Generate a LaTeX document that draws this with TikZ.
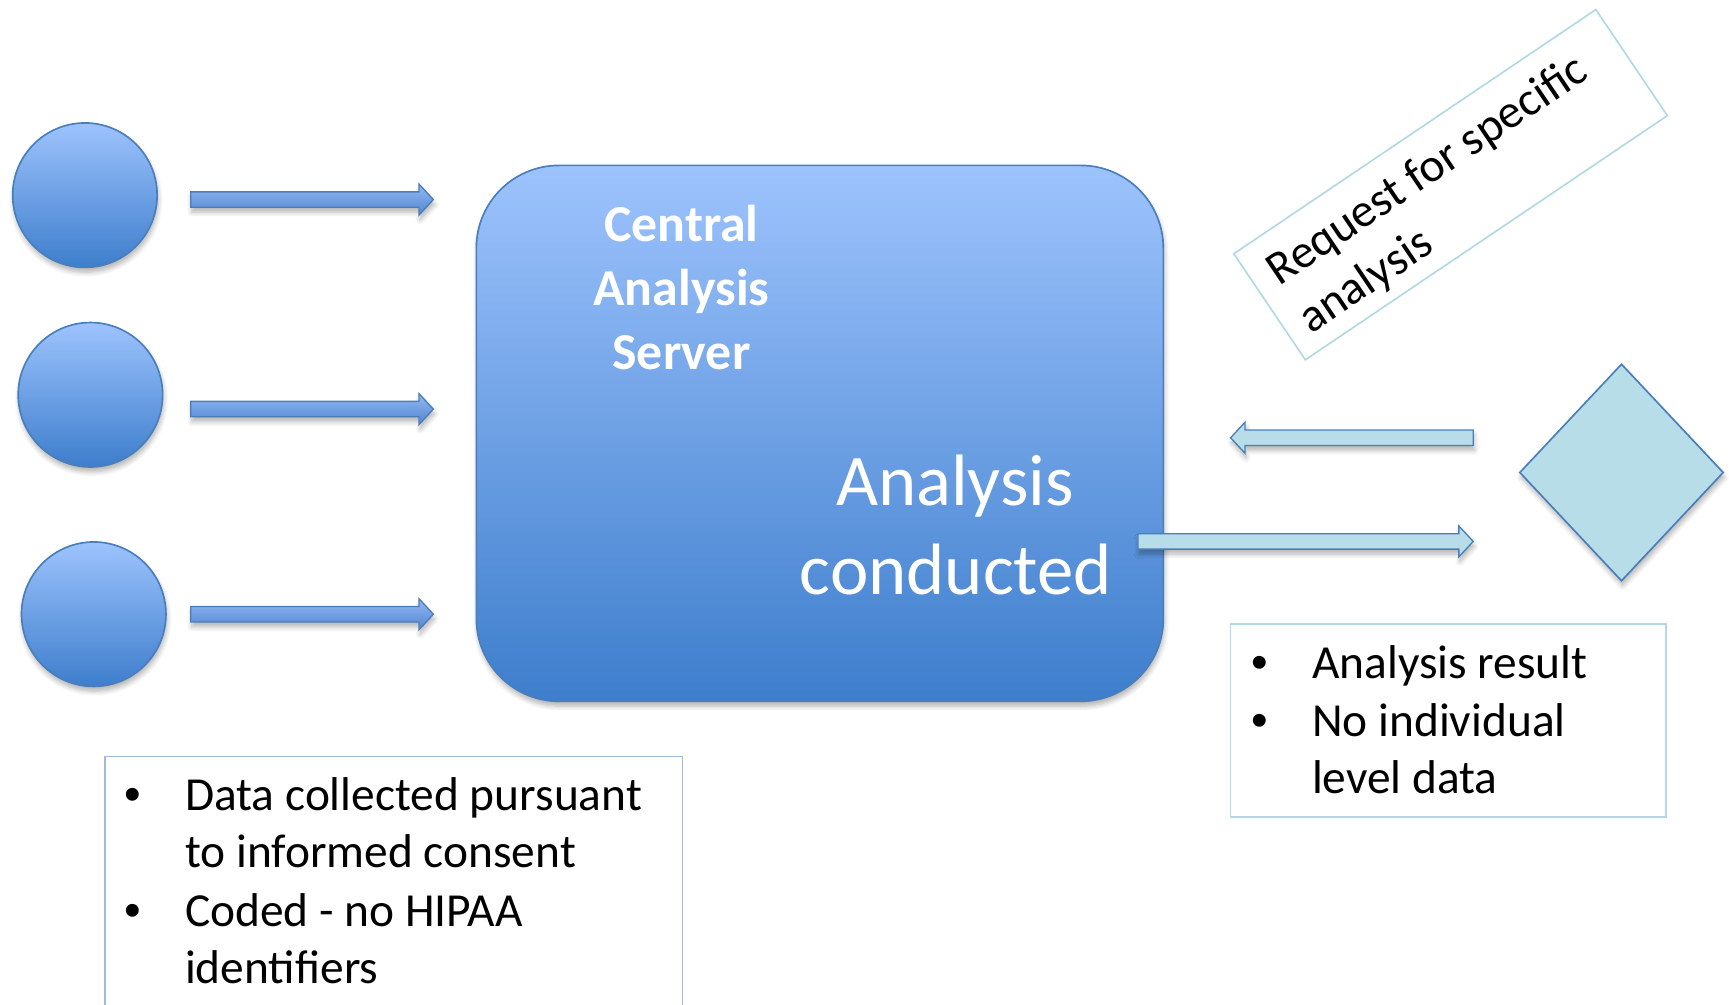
\documentclass[tikz,border=0pt]{standalone}
\usepackage{fontspec}
\setmainfont{Carlito}
\newfontfamily\bulletfont{Liberation Sans}
\usetikzlibrary{calc,shapes.geometric,shadows.blur}

\definecolor{blueTop}{RGB}{157,195,253}
\definecolor{blueBot}{RGB}{62,126,204}
\definecolor{arrTop}{RGB}{146,184,242}
\definecolor{arrBot}{RGB}{82,134,208}
\definecolor{blueLine}{RGB}{74,126,187}
\definecolor{paleBlue}{RGB}{183,221,232}
\definecolor{paleLine}{RGB}{176,216,229}
\definecolor{listLine}{RGB}{158,186,221}

\tikzset{
  softshadow/.style={blur shadow={shadow xshift=0.5pt, shadow yshift=-2.2pt,
      shadow blur radius=2.2pt, shadow blur steps=6, shadow opacity=30}},
  bluebody/.style={top color=blueTop, bottom color=blueBot, draw=blueLine, line width=0.75pt},
  bluearrow/.style={top color=arrTop, bottom color=arrBot, draw=blueLine, line width=0.6pt, softshadow},
  palearrow/.style={fill=paleBlue, draw=blueLine, line width=0.6pt, softshadow},
  bodytext/.style={font=\fontsize{21.5pt}{26.2pt}\selectfont, inner sep=0, text=black},
  bigtext/.style={font=\fontsize{33pt}{40.5pt}\selectfont, inner sep=0, text=white},
  titletext/.style={font=\fontsize{23.5pt}{29pt}\selectfont\bfseries, inner sep=0, text=white},
}

% bullet with its gap before the item text
\newcommand\bul{\makebox[27.5pt][l]{\bulletfont\textbullet}}
% block arrow from a start point to a tip; #4 = 1 points right, -1 points left
\newcommand\blockarrow[4]{%
  \path[#1] ($(#2)+(0,-7)$) -- ($(#3)+(-13*#4,-7)$) -- ($(#3)+(-13*#4,-14)$) -- (#3)
    -- ($(#3)+(-13*#4,14)$) -- ($(#3)+(-13*#4,7)$) -- ($(#2)+(0,7)$) -- cycle;}

\begin{document}
\begin{tikzpicture}[x=0.5pt, y=-0.5pt]
\useasboundingbox (0,0) rectangle (1568,911);

% data sources
\node[circle, bluebody, softshadow, minimum size=65.5pt, inner sep=0] (src1) at (77,177) {};
\node[circle, bluebody, softshadow, minimum size=65.5pt, inner sep=0] (src2) at (82,358) {};
\node[circle, bluebody, softshadow, minimum size=65.5pt, inner sep=0] (src3) at (85,557) {};

% central server
\node[rectangle, rounded corners=37.5pt, bluebody, softshadow,
      minimum width=311.5pt, minimum height=243pt, inner sep=0] (server) at (743.5,393) {};
\node[titletext, anchor=base] (srvA) at (618,219) {Central};
\node[titletext, anchor=base] (srvB) at (618,277) {Analysis};
\node[titletext, anchor=base] (srvC) at (618,335) {Server};
\node[bigtext, anchor=base] (condA) at (866,458) {Analysis};
\node[bigtext, anchor=base] (condB) at (867,539) {conducted};

% requester
\node[diamond, fill=paleBlue, draw=blueLine, line width=0.75pt, softshadow,
      minimum width=92.5pt, minimum height=98.5pt, aspect=0.94, inner sep=0] (user) at (1470.5,428.5) {};

% arrows from the sources into the server
\coordinate (a1s) at (173,181); \coordinate (a1t) at (393,181);
\coordinate (a2s) at (173,371); \coordinate (a2t) at (393,371);
\coordinate (a3s) at (173,557); \coordinate (a3t) at (393,557);
\blockarrow{bluearrow}{a1s}{a1t}{1}
\blockarrow{bluearrow}{a2s}{a2t}{1}
\blockarrow{bluearrow}{a3s}{a3t}{1}

% request in, result out
\coordinate (r1s) at (1336,397); \coordinate (r1t) at (1116,397);
\coordinate (r2s) at (1032,491); \coordinate (r2t) at (1336,491);
\blockarrow{palearrow}{r1s}{r1t}{-1}
\blockarrow{palearrow}{r2s}{r2t}{1}

% request label
\node[draw=paleLine, line width=0.75pt, rotate=34, minimum width=198pt, minimum height=58pt,
      inner sep=0] (reqbox) at (1315.5,167.5) {};
\begin{scope}[shift={(1315.5,167.5)}, rotate=34, transform shape]
  \node[bodytext, anchor=base west] (reqA) at (-181,-10) {Request for specific};
  \node[bodytext, anchor=base west] (reqB) at (-181,42) {analysis};
\end{scope}

% result notes
\node[draw=paleLine, line width=0.75pt, minimum width=197.5pt, minimum height=87.5pt,
      inner sep=0] (resbox) at (1313.5,653.5) {};
\node[bodytext, anchor=base west] (resA) at (1134.5,615) {\bul Analysis result};
\node[bodytext, anchor=base west] (resB) at (1134.5,668) {\bul No individual};
\node[bodytext, anchor=base west] (resC) at (1189.5,720) {level data};

% data notes
\draw[listLine, line width=0.75pt] (95,911) |- (619,686) -- (619,911);
\node[bodytext, anchor=base west] (datA) at (112.5,735) {\bul Data collected pursuant};
\node[bodytext, anchor=base west] (datB) at (167.5,787) {to informed consent};
\node[bodytext, anchor=base west] (datC) at (112.5,840) {\bul Coded - no HIPAA};
\node[bodytext, anchor=base west] (datD) at (167.5,892) {identifiers};
\end{tikzpicture}
\end{document}
